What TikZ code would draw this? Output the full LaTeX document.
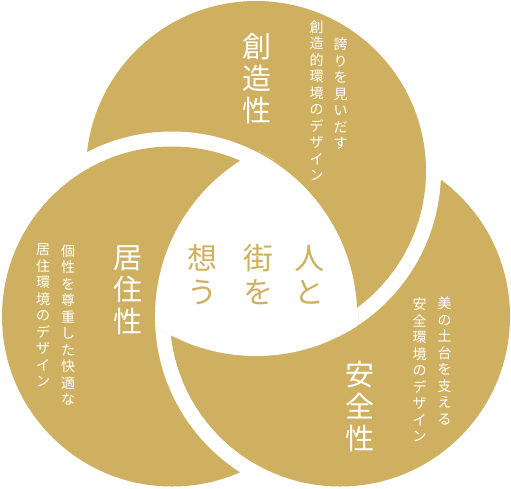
\documentclass[tikz,border=0pt]{standalone}
\usepackage{fontspec}
\newfontfamily\jpfont{Noto Sans CJK JP}
\definecolor{gold}{RGB}{207,176,96}

\tikzset{
	title/.style={text=white, font=\jpfont\fontsize{29}{32}\selectfont, align=center, inner sep=0pt},
	subtitle/.style={text=white, font=\jpfont\fontsize{14}{16.5}\selectfont, align=center, inner sep=0pt},
	motto/.style={text=gold, font=\jpfont\fontsize{30}{34}\selectfont, align=center, inner sep=0pt},
}

\begin{document}
\begin{tikzpicture}[x=1pt, y=-1pt]
	\useasboundingbox (0,0) rectangle (511,488);
	
	\coordinate (T) at (256,171);
	\coordinate (L) at (172,316.5);
	\coordinate (R) at (340,316.5);
	
	% right, then top, then left over them
	\fill [white] (R) circle [radius=185pt];
	\fill [gold] (R) circle [radius=170pt];
	\fill [white] (T) circle [radius=185pt];
	\fill [gold] (T) circle [radius=170pt];
	\fill [white] (L) circle [radius=185pt];
	\fill [gold] (L) circle [radius=170pt];
	
	% right again, over the left one (not over the top one)
	\begin{scope}[even odd rule]
		\clip (L) circle [radius=187pt];
		\clip (L) circle [radius=187pt] (T) circle [radius=185pt];
		\fill [white] (R) circle [radius=185pt] (R) circle [radius=170pt];
		\fill [gold] (R) circle [radius=170pt];
	\end{scope}
	
	% white middle
	\begin{scope}
		\clip (T) circle [radius=185pt];
		\clip (L) circle [radius=185pt];
		\fill [white] (R) circle [radius=185pt];
	\end{scope}
	
	\node [title] (sozo) at (256.5,78.5) {創\\造\\性};
	\node [subtitle] (sozoA) at (340.5,93.5) {誇\\り\\を\\見\\い\\だ\\す};
	\node [subtitle] (sozoB) at (316.5,101) {創\\造\\的\\環\\境\\の\\デ\\ザ\\イ\\ン};
	
	\node [title] (kyoju) at (128,290) {居\\住\\性};
	\node [subtitle] (kyojuA) at (68,325) {個\\性\\を\\尊\\重\\し\\た\\快\\適\\な};
	\node [subtitle] (kyojuB) at (43,315.5) {居\\住\\環\\境\\の\\デ\\ザ\\イ\\ン};
	
	\node [title] (anzen) at (360,406.5) {安\\全\\性};
	\node [subtitle] (anzenA) at (444.5,361) {美\\の\\土\\台\\を\\支\\え\\る};
	\node [subtitle] (anzenB) at (419.5,370) {安\\全\\環\\境\\の\\デ\\ザ\\イ\\ン};
	
	\node [motto] (hito) at (309,275) {人\\と};
	\node [motto] (machi) at (258,275) {街\\を};
	\node [motto] (omou) at (202,275) {想\\う};
\end{tikzpicture}
\end{document}
